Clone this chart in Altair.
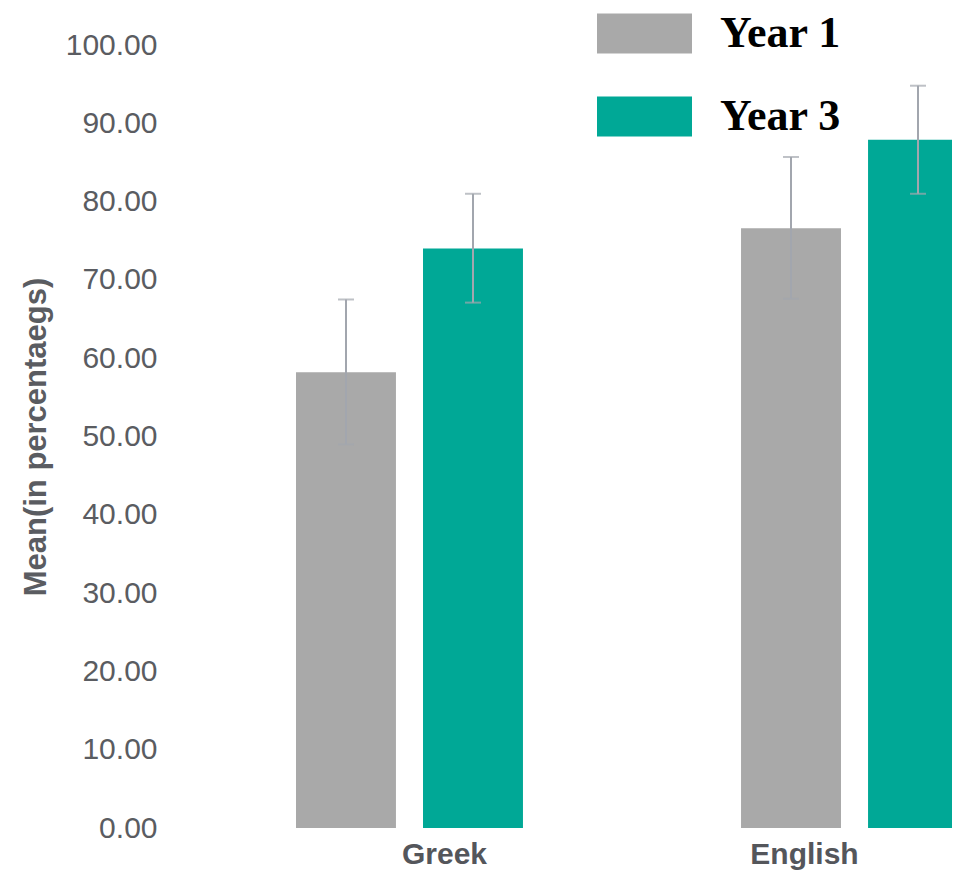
import altair as alt
import pandas as pd

subjects = ["Greek", "Greek", "English", "English"]
years = ["Year 1", "Year 3", "Year 1", "Year 3"]
means = [58.2, 74.0, 76.6, 87.9]
err_low = [49.0, 67.1, 67.6, 81.0]
err_high = [67.5, 81.0, 85.7, 94.8]

subject_order = ["Greek", "English"]
year_order = ["Year 1", "Year 3"]
year_colors = ["#A9A9A9", "#00A896"]
y_ticks = [0, 10, 20, 30, 40, 50, 60, 70, 80, 90, 100]

df = pd.DataFrame({
    "subject": subjects,
    "year": years,
    "mean": means,
    "lo": err_low,
    "hi": err_high,
})

x_enc = alt.X(
    "subject:N",
    sort=subject_order,
    scale=alt.Scale(domain=subject_order, range=[127, 799], paddingInner=0.49, paddingOuter=0),
    axis=alt.Axis(
        title=None,
        domain=False,
        ticks=False,
        tickSize=0,
        labelPadding=11,
        labelFont="Liberation Sans",
        labelFontSize=30,
        labelFontWeight="bold",
        labelColor="#54565B",
        labelAngle=0,
        labelOffset={"condition": {"test": "datum.value === 'Greek'", "value": 35}, "value": -50},
    ),
)
xoff_enc = alt.XOffset(
    "year:N",
    sort=year_order,
    scale=alt.Scale(domain=year_order, paddingInner=0.213, paddingOuter=0),
)

y_scale = alt.Scale(domain=[0, 100], nice=False)

path = "M-1,-0.42L1,-0.42L1,0.42L-1,0.42Z"

bars = alt.Chart(df).mark_bar(clip=True).encode(
    x=x_enc,
    xOffset=xoff_enc,
    y=alt.Y(
        "mean:Q",
        scale=y_scale,
        axis=alt.Axis(
            title="Mean(in percentaegs)",
            values=y_ticks,
            format=".2f",
            grid=False,
            domain=False,
            ticks=False,
            tickSize=0,
            labelPadding=12,
            labelFont="Liberation Sans",
            labelFontSize=30,
            labelColor="#5A5C61",
            titleFont="Liberation Sans",
            titleFontSize=31,
            titleFontWeight="bold",
            titleColor="#5A5C61",
            titlePadding=13,
        ),
    ),
    color=alt.Color(
        "year:N",
        scale=alt.Scale(domain=year_order, range=year_colors),
        legend=alt.Legend(
            orient="none",
            legendX=428,
            legendY=-59,
            title=None,
            direction="vertical",
            symbolType=path,
            symbolSize=9025,
            symbolStrokeWidth=0,
            symbolOpacity=1,
            labelFont="Liberation Serif",
            labelFontSize=44,
            labelFontWeight="bold",
            labelColor="#000000",
            labelOffset=28,
            labelLimit=400,
            rowPadding=13,
            padding=0,
        ),
    ),
)

rules = alt.Chart(df).mark_rule(color="#A2A6AE", strokeWidth=2, clip=True).encode(
    x=x_enc,
    xOffset=xoff_enc,
    y=alt.Y("lo:Q", scale=y_scale),
    y2="hi:Q",
)

caps_lo = alt.Chart(df).mark_tick(color="#A2A6AE", size=16, thickness=2, clip=True).encode(
    x=x_enc,
    xOffset=xoff_enc,
    y=alt.Y("lo:Q", scale=y_scale),
)
caps_hi = alt.Chart(df).mark_tick(color="#A2A6AE", size=16, thickness=2, clip=True).encode(
    x=x_enc,
    xOffset=xoff_enc,
    y=alt.Y("hi:Q", scale=y_scale),
)

chart = alt.layer(bars, rules, caps_lo, caps_hi).properties(
    width=783,
    height=783,
    autosize=alt.AutoSizeParams(type="none"),
    padding={"left": 161, "top": 37, "right": 0, "bottom": 42},
    background="#FFFFFF",
).configure_view(stroke="transparent")

chart.save("out.html", embed_options={"renderer": "svg", "actions": False})
